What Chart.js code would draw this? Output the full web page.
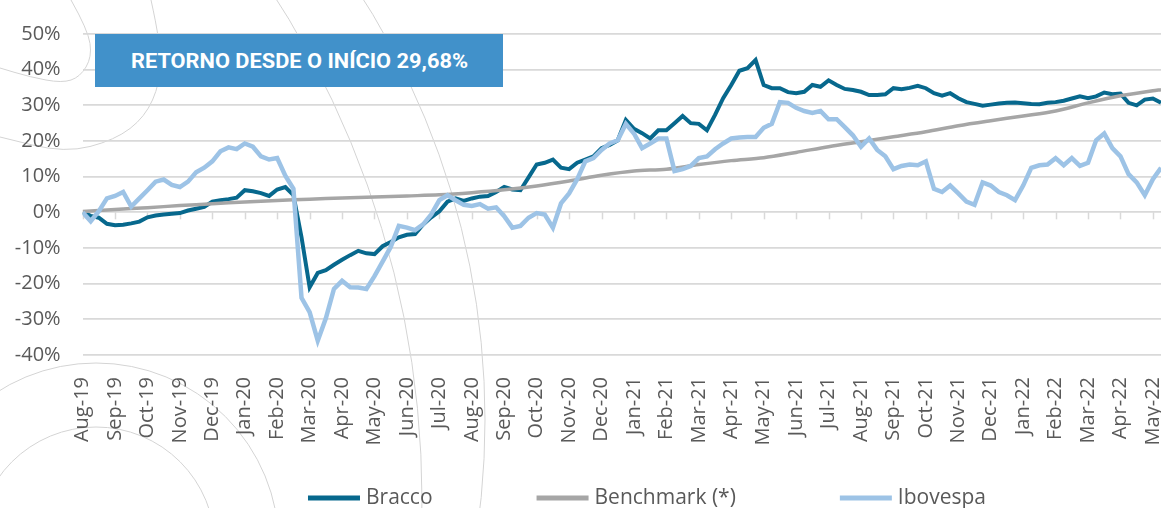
<!DOCTYPE html>
<html>
<head>
<meta charset="utf-8">
<title>Retorno desde o início</title>
<script src="https://cdn.jsdelivr.net/npm/chart.js@4.4.1/dist/chart.umd.min.js"></script>
<style>
    html, body { margin: 0; padding: 0; background: #fff; }
    #wrap { position: relative; width: 1161px; height: 508px; overflow: hidden; }
    #chart { position: absolute; left: 0; top: 0; }
    #banner {
        position: absolute; left: 95px; top: 34px; width: 408px; height: 53px;
        background: #4191CA; display: flex; align-items: center; justify-content: center;
    }
    #bannerText {
        display: inline-block; color: #fff; font: 700 21px Roboto, "DejaVu Sans", sans-serif;
        white-space: nowrap; transform-origin: center;
    }
</style>
</head>
<body>
<div id="wrap">
    <canvas id="chart" width="1161" height="520"></canvas>
    <div id="banner"><span id="bannerText">RETORNO DESDE O INÍCIO 29,68%</span></div>
</div>
<script>
// Monthly axis labels (tick i = month i since Aug-19)
const months = ['Aug-19', 'Sep-19', 'Oct-19', 'Nov-19', 'Dec-19', 'Jan-20', 'Feb-20', 'Mar-20',
    'Apr-20', 'May-20', 'Jun-20', 'Jul-20', 'Aug-20', 'Sep-20', 'Oct-20', 'Nov-20', 'Dec-20',
    'Jan-21', 'Feb-21', 'Mar-21', 'Apr-21', 'May-21', 'Jun-21', 'Jul-21', 'Aug-21', 'Sep-21',
    'Oct-21', 'Nov-21', 'Dec-21', 'Jan-22', 'Feb-22', 'Mar-22', 'Apr-22', 'May-22'];

// Bracco and Ibovespa are read every quarter of a month (in %)
const step = 0.25;
const bracco = [
    0, -1.0, -1.5, -3.2, -3.6, -3.5, -3.1, -2.6, -1.4, -0.9,
    -0.6, -0.4, -0.2, 0.5, 1.0, 1.5, 3.0, 3.4, 3.7, 4.1,
    6.2, 5.9, 5.4, 4.6, 6.4, 7.1, 4.8, -7.0, -21.0, -17.0,
    -16.2, -14.7, -13.3, -12.0,
    -10.8, -11.5, -11.7, -9.5, -8.3, -7.0, -6.3, -6.1, -3.4, -1.4,
    0.3, 3.0, 3.9, 3.2, 3.9, 4.4, 4.6, 5.7, 7.1, 6.4,
    6.2, 9.8, 13.4, 13.9, 14.8, 12.5, 12.1, 13.9, 14.8, 15.7,
    18.0, 18.9, 20.2,
    25.9, 23.4, 22.2, 20.7, 23.0, 23.0, 25.0, 27.0, 25.0, 24.8,
    23.0, 27.3, 32.0, 35.7, 39.7, 40.4, 42.7, 35.7, 34.8, 34.8,
    33.7, 33.4, 33.8, 35.7, 35.2, 37.0, 35.7, 34.6, 34.3, 33.8,
    32.9, 32.9, 33.1,
    34.8, 34.5, 34.9, 35.5, 34.8, 33.4, 32.7, 33.4, 32.0, 30.9,
    30.4, 29.9, 30.2, 30.5, 30.7, 30.8, 30.6, 30.4, 30.3, 30.7,
    30.9, 31.3, 31.9, 32.5, 32.0, 32.5, 33.6, 33.1, 33.3, 30.7,
    30.0, 31.6, 31.9, 30.7
];
const ibovespa = [
    0, -2.5, 0.3, 3.9, 4.6, 5.7, 1.6, 3.9, 6.2, 8.6,
    9.2, 7.7, 7.1, 8.6, 11.2, 12.5, 14.3, 17.1, 18.2, 17.7,
    19.3, 18.4, 15.7, 14.8, 15.2, 10.3, 6.6, -24.0, -28.0, -36.0,
    -29.7, -21.5, -19.2, -21.0,
    -21.1, -21.5, -17.9, -13.8, -9.7, -3.8, -4.3, -5.0, -3.4, -0.6,
    3.4, 4.8, 3.4, 2.1, 1.8, 2.3, 1.0, 1.4, -1.1, -4.3,
    -3.8, -1.5, -0.2, -0.6, -4.3, 2.5, 5.3, 9.3, 14.3, 15.2,
    17.5, 19.3, 20.2,
    24.8, 22.1, 18.0, 19.3, 20.7, 20.7, 11.6, 12.1, 13.0, 15.2,
    15.7, 17.7, 19.3, 20.7, 21.0, 21.1, 21.1, 23.7, 24.8, 30.9,
    30.7, 29.3, 28.4, 27.9, 28.4, 26.1, 26.1, 23.9, 21.6, 18.4,
    20.7, 17.5, 15.7,
    12.1, 13.0, 13.4, 13.2, 14.3, 6.6, 5.7, 7.5, 5.3, 3.0,
    2.1, 8.4, 7.5, 5.7, 4.8, 3.4, 7.5, 12.5, 13.2, 13.4,
    15.2, 13.2, 15.2, 13.0, 13.9, 20.2, 22.1, 18.0, 15.7, 10.7,
    8.4, 4.8, 9.3, 12.5
];

// Benchmark is smooth, read once a month
const benchMonths = [0, 1, 2, 3, 4, 5, 6, 7, 8, 9, 10, 11, 12, 13, 14, 15, 16, 17,
    18, 19, 20, 21, 22, 23, 24, 25, 26, 27, 28, 29, 30, 31, 32, 33, 33.25];
const benchmark = [0.2, 0.8, 1.3, 1.9, 2.4, 2.9, 3.3, 3.7, 4.0, 4.3, 4.6, 4.9, 5.5, 6.3, 7.4, 8.8, 10.4, 11.6,
    12.1, 13.4, 14.5, 15.3, 16.8, 18.4, 19.8, 21.2, 22.6, 24.3, 25.7, 27.0, 28.4, 30.7, 32.7, 34.1, 34.4];

const textColor = '#595959';
const gridColor = '#D9D9D9';
const tickFont = { family: '"Open Sans", "Noto Sans", sans-serif', size: 20 };

// faint decorative circles behind the chart
const backdrop = {
    id: 'backdrop',
    beforeDraw(chart) {
        const ctx = chart.ctx;
        ctx.save();
        ctx.strokeStyle = '#D4D4D4';
        ctx.lineWidth = 1;
        [[-513, 500, 935], [-304, 420, 789], [96, 546, 183], [96, 546, 119]].forEach(([cx, cy, r]) => {
            ctx.beginPath();
            ctx.arc(cx, cy, r, 0, Math.PI * 2);
            ctx.stroke();
        });
        const blobs = [
            [[71, 0], [88, 30], [92, 57], [80, 77], [62, 83], [30, 77], [0, 68]],
            [[151, 0], [161, 45], [160, 83], [145, 117], [115, 140], [65, 153], [0, 137]]
        ];
        blobs.forEach(pts => {
            ctx.beginPath();
            ctx.moveTo(pts[0][0], pts[0][1]);
            for (let i = 1; i < pts.length - 1; i++) {
                const mx = (pts[i][0] + pts[i + 1][0]) / 2;
                const my = (pts[i][1] + pts[i + 1][1]) / 2;
                ctx.quadraticCurveTo(pts[i][0], pts[i][1], mx, my);
            }
            const last = pts[pts.length - 1];
            ctx.lineTo(last[0], last[1]);
            ctx.stroke();
        });
        ctx.restore();
    }
};

// small tick marks hanging from the 0% line
const axisTicks = {
    id: 'axisTicks',
    beforeDatasetsDraw(chart) {
        const { ctx, scales: { x, y } } = chart;
        const y0 = y.getPixelForValue(0);
        ctx.save();
        ctx.strokeStyle = gridColor;
        ctx.lineWidth = 1.5;
        months.forEach((m, i) => {
            const px = Math.round(x.getPixelForValue(i)) + 0.5;
            ctx.beginPath();
            ctx.moveTo(px, y0);
            ctx.lineTo(px, y0 + 7);
            ctx.stroke();
        });
        ctx.restore();
    }
};

// legend with line samples, centred as in the original (wider) chart
const lineLegend = {
    id: 'lineLegend',
    afterDraw(chart) {
        const ctx = chart.ctx;
        ctx.save();
        ctx.font = '21px "Open Sans", "Noto Sans", sans-serif';
        ctx.textBaseline = 'middle';
        const items = chart.data.datasets.map(d => ({
            label: d.label, color: d.borderColor, w: ctx.measureText(d.label).width
        }));
        const sample = 52, gap = 6, spacing = 104;
        const total = items.reduce((s, it) => s + sample + gap + it.w, 0) + spacing * (items.length - 1);
        let x = 647 - total / 2;
        const y = 498;
        items.forEach(it => {
            ctx.fillStyle = it.color;
            ctx.fillRect(x, y - 2.5, sample, 5);
            x += sample + gap;
            ctx.fillStyle = textColor;
            ctx.fillText(it.label, x, y);
            x += it.w + spacing;
        });
        ctx.restore();
    }
};

const toPoints = (xs, ys) => ys.map((v, i) => ({ x: xs[i], y: v }));
const quarterSteps = bracco.map((v, i) => i * step);

new Chart(document.getElementById('chart'), {
    type: 'line',
    data: {
        datasets: [
            {
                label: 'Bracco',
                data: toPoints(quarterSteps, bracco),
                borderColor: '#07688D',
                backgroundColor: '#07688D',
                borderWidth: 4,
                pointRadius: 0,
                order: 3
            },
            {
                label: 'Benchmark (*)',
                data: toPoints(benchMonths, benchmark),
                borderColor: '#A6A6A6',
                backgroundColor: '#A6A6A6',
                borderWidth: 3.5,
                pointRadius: 0,
                tension: 0.3,
                order: 2
            },
            {
                label: 'Ibovespa',
                data: toPoints(quarterSteps, ibovespa),
                borderColor: '#9DC3E6',
                backgroundColor: '#9DC3E6',
                borderWidth: 4.5,
                pointRadius: 0,
                order: 1
            }
        ]
    },
    options: {
        responsive: false,
        animation: false,
        layout: { padding: { top: 24, right: 0, bottom: 40, left: 0 } },
        plugins: {
            legend: { display: false },
            tooltip: { enabled: false }
        },
        scales: {
            x: {
                type: 'linear',
                min: 0,
                max: 33.25,
                grid: { display: false },
                border: { display: false },
                afterBuildTicks(scale) {
                    scale.ticks = months.map((m, i) => ({ value: i }));
                },
                ticks: {
                    autoSkip: false,
                    maxRotation: 90,
                    minRotation: 90,
                    padding: 14,
                    color: textColor,
                    font: tickFont,
                    callback: (v) => months[Math.round(v)] || ''
                },
                afterFit(scale) {
                    scale.height = 125;
                    scale.paddingLeft = 0;
                    scale.paddingRight = 0;
                }
            },
            y: {
                min: -40,
                max: 50,
                grid: { color: gridColor, lineWidth: 1.8, drawTicks: false },
                border: { display: false },
                ticks: {
                    stepSize: 10,
                    padding: 22,
                    color: textColor,
                    font: tickFont,
                    callback: (v) => v + '%'
                },
                afterFit(scale) {
                    scale.width = 82.6;
                }
            }
        }
    },
    plugins: [backdrop, axisTicks, lineLegend]
});

// squeeze the banner title to the width it has in the original
const title = document.getElementById('bannerText');
title.style.transform = 'scaleX(' + (337 / title.offsetWidth) + ')';
</script>
</body>
</html>
